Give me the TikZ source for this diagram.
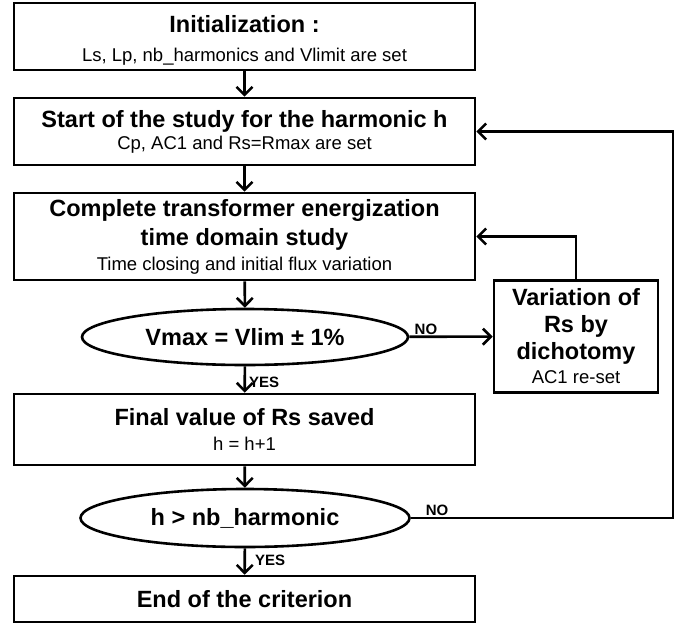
\documentclass[tikz,border=0pt]{standalone}
\usepackage{fontspec}
\setmainfont{Liberation Sans}
\usetikzlibrary{arrows.meta,shapes.geometric}

\newcommand{\hdtext}[1]{{\fontsize{23.5}{22}\selectfont\bfseries #1}}

\begin{document}
\begin{tikzpicture}[x=1pt,y=-1pt,
  stagebox/.style={draw, line width=2.6pt, rectangle, minimum width=461pt, align=center, inner sep=0pt,
    font=\fontsize{18.5}{22}\selectfont},
  testbox/.style={draw, line width=2.6pt, ellipse, inner sep=0pt, font=\fontsize{23.5}{26}\selectfont\bfseries},
  flow/.style={line width=2.6pt, -{Straight Barb[length=8pt,width=16pt]}},
  answer/.style={font=\fontsize{15}{17}\selectfont\bfseries, inner sep=1pt}]
\useasboundingbox (0,0) rectangle (682,624);
\node[stagebox, minimum height=67pt] (init) at (244.5,36.5)
  {\rule{0pt}{24pt}\hdtext{Initialization :}\\[7pt]Ls, Lp, nb\_harmonics and Vlimit are set};
\node[stagebox, minimum height=67pt] (start) at (244.5,131.5)
  {\hdtext{Start of the study for the harmonic h}\\[0pt]Cp, AC1 and Rs=Rmax are set};
\node[stagebox, minimum height=87pt] (energ) at (244.5,236.5)
  {\hdtext{Complete transformer energization}\\[6pt]\hdtext{time domain study}\\[3pt]Time closing and initial flux variation};
\node[testbox, minimum width=326pt, minimum height=56pt] (test1) at (245,337) {Vmax = Vlim \textpm{} 1\%};
\node[stagebox, minimum width=164pt, minimum height=112pt] (dicho) at (576,336.5)
  {\hdtext{Variation of}\\[5pt]\hdtext{Rs by}\\[5pt]\hdtext{dichotomy}\\[2pt]AC1 re-set};
\node[stagebox, minimum height=71pt] (final) at (244.5,429.5)
  {\hdtext{Final value of Rs saved}\\[3pt]h = h+1};
\node[testbox, minimum width=329pt, minimum height=58pt] (test2) at (245,518) {h > nb\_harmonic};
\node[stagebox, minimum height=46pt] (stop) at (244.5,599) {\hdtext{End of the criterion}};
\coordinate (loop) at (673,518);
\draw[flow] (init) -- (start);
\draw[flow] (start) -- (energ);
\draw[flow] (energ) -- (test1);
\draw[flow] (test1) -- node[answer, pos=0.6, right, xshift=2pt] {YES} (final);
\draw[flow] (test1) -- node[answer, pos=0.2, above] {NO} (dicho);
\draw[flow] (dicho.north) |- (energ.east);
\draw[flow] (final) -- (test2);
\draw[flow] (test2) -- node[answer, pos=0.45, right, xshift=8pt] {YES} (stop);
\draw[flow] (test2.east) -- node[answer, pos=0.1, above] {NO} (loop) |- (start.east);
\end{tikzpicture}
\end{document}
